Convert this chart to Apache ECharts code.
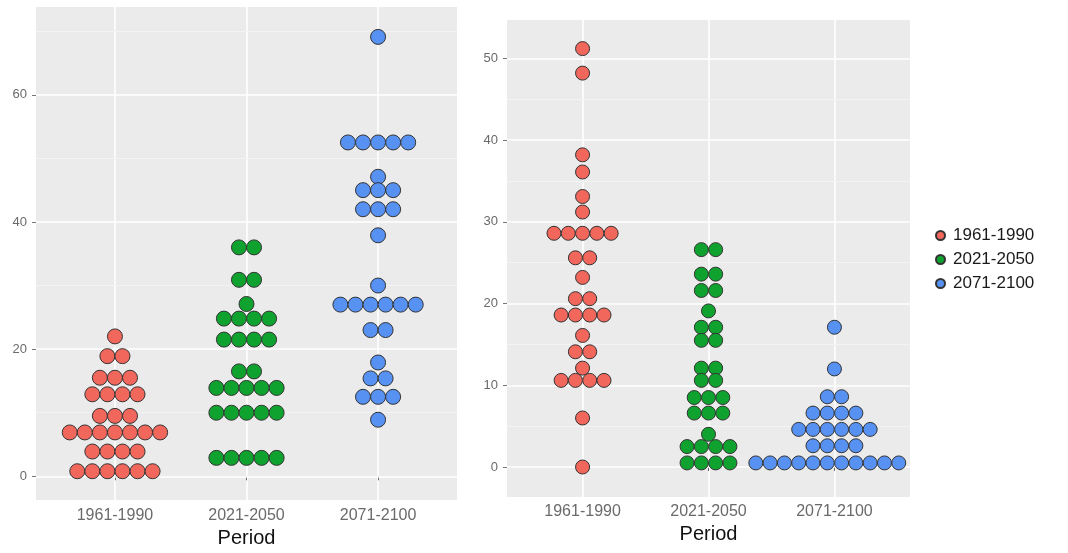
<!DOCTYPE html>
<html>
<head>
<meta charset="utf-8">
<script src="https://cdn.jsdelivr.net/npm/echarts@6/dist/echarts.min.js"></script>
<style>
  html, body { margin: 0; padding: 0; background: #fff; }
  #chart { width: 1068px; height: 553px; }
</style>
</head>
<body>
<div id="chart"></div>
<script>
const periods = ["1961-1990", "2021-2050", "2071-2100"];
const colors = ["#F2675C", "#10A22F", "#5791F2"];

// left panel, one row of dots per entry: [value, number of dots]
const left1961 = [[22.0, 1], [18.9, 2], [15.5, 3], [12.9, 4], [9.5, 3], [6.9, 7], [3.9, 4], [0.8, 6]];
const left2021 = [[36.0, 2], [30.9, 2], [27.1, 1], [24.8, 4], [21.5, 4], [16.5, 2], [13.9, 5], [10.0, 5], [2.9, 5]];
const left2071 = [[69.1, 1], [52.5, 5], [47.1, 1], [45.0, 3], [42.0, 3], [37.9, 1], [30.0, 1], [27.0, 6],
  [23.0, 2], [17.9, 1], [15.4, 2], [12.5, 3], [8.9, 1]];

// right panel
const right1961 = [[51.2, 1], [48.2, 1], [38.2, 1], [36.1, 1], [33.1, 1], [31.2, 1], [28.6, 5], [25.6, 2],
  [23.2, 1], [20.6, 2], [18.6, 4], [16.1, 1], [14.1, 2], [12.1, 1], [10.6, 4], [6.0, 1], [0.0, 1]];
const right2021 = [[26.6, 2], [23.6, 2], [21.6, 2], [19.1, 1], [17.1, 2], [15.5, 2], [12.1, 2], [10.6, 2],
  [8.5, 3], [6.6, 3], [4.0, 1], [2.5, 4], [0.5, 4]];
const right2071 = [[17.1, 1], [12.0, 1], [8.6, 2], [6.6, 4], [4.6, 6], [2.6, 4], [0.5, 12]];

const leftTicks = [0, 20, 40, 60];
const leftMinor = [10, 30, 50, 70];
const rightTicks = [0, 10, 20, 30, 40, 50];
const rightMinor = [5, 15, 25, 35, 45];

const panels = [
  { rows: [left1961, left2021, left2071], step: 0.1145, size: 15 },
  { rows: [right1961, right2021, right2071], step: 0.1135, size: 14 }
];

// stack the dots of a row side by side around the category centre
function stackDots(rows, cat, step) {
  let out = [];
  rows.forEach(function (r) {
    let n = r[1];
    for (let k = 0; k < n; k++) {
      out.push([cat + (k - (n - 1) / 2) * step, r[0]]);
    }
  });
  return out;
}

const font = "Liberation Sans, Arial, sans-serif";
const labelGrey = "#6a6a6a";

function xAxisFor(gridIndex) {
  return {
    type: "value",
    gridIndex: gridIndex,
    min: 0.4,
    max: 3.6,
    name: "Period",
    nameLocation: "middle",
    nameGap: 24,
    nameTextStyle: { fontSize: 20, color: "#111", fontFamily: font },
    axisLine: { show: false },
    axisTick: { show: true, length: 4, customValues: [1, 2, 3], lineStyle: { color: "#666" } },
    axisLabel: {
      customValues: [1, 2, 3],
      margin: 7,
      fontSize: 16,
      color: labelGrey,
      fontFamily: font,
      formatter: function (v) { return periods[Math.round(v) - 1]; }
    },
    splitLine: { show: true, lineStyle: { color: "#ffffff", width: 1.6 } }
  };
}

function yAxisFor(gridIndex, min, max, ticks) {
  return {
    type: "value",
    gridIndex: gridIndex,
    min: min,
    max: max,
    axisLine: { show: false },
    axisTick: { show: true, length: 4, customValues: ticks, lineStyle: { color: "#777" } },
    axisLabel: { customValues: ticks, margin: 9, fontSize: 13, color: labelGrey, fontFamily: font },
    splitLine: { show: true, lineStyle: { color: "#ffffff", width: 1.6 } },
    z: 2
  };
}

function minorAxisFor(gridIndex, min, max, ticks) {
  return {
    type: "value",
    gridIndex: gridIndex,
    min: min,
    max: max,
    axisLine: { show: false },
    axisTick: { show: false, customValues: ticks },
    axisLabel: { show: false, customValues: ticks },
    splitLine: { show: true, lineStyle: { color: "#F3F3F3", width: 1 } },
    z: 1
  };
}

let series = [];
panels.forEach(function (p, pi) {
  p.rows.forEach(function (rows, i) {
    series.push({
      type: "scatter",
      name: periods[i],
      xAxisIndex: pi,
      yAxisIndex: pi * 2,
      symbol: "circle",
      symbolSize: p.size,
      data: stackDots(rows, i + 1, p.step),
      itemStyle: { color: colors[i], borderColor: "#333", borderWidth: 1, opacity: 1 },
      z: 3
    });
  });
});

const chart = echarts.init(document.getElementById("chart"));
chart.setOption({
  animation: false,
  backgroundColor: "#fff",
  textStyle: { fontFamily: font },
  grid: [
    { left: 36, top: 7, width: 421, height: 498, show: true, backgroundColor: "#EBEBEB", borderWidth: 0 },
    { left: 507, top: 20, width: 403, height: 477, show: true, backgroundColor: "#EBEBEB", borderWidth: 0 }
  ],
  legend: {
    orient: "vertical",
    left: 935,
    top: 227,
    padding: 0,
    itemGap: 7,
    itemWidth: 9,
    itemHeight: 9,
    icon: "circle",
    data: periods,
    textStyle: { fontSize: 17, color: "#1a1a1a", fontFamily: font, padding: [0, 0, 0, 3] }
  },
  xAxis: [xAxisFor(0), xAxisFor(1)],
  yAxis: [
    yAxisFor(0, -3.74, 73.8, leftTicks),
    minorAxisFor(0, -3.74, 73.8, leftMinor),
    yAxisFor(1, -3.67, 54.7, rightTicks),
    minorAxisFor(1, -3.67, 54.7, rightMinor)
  ],
  series: series
});
</script>
</body>
</html>
